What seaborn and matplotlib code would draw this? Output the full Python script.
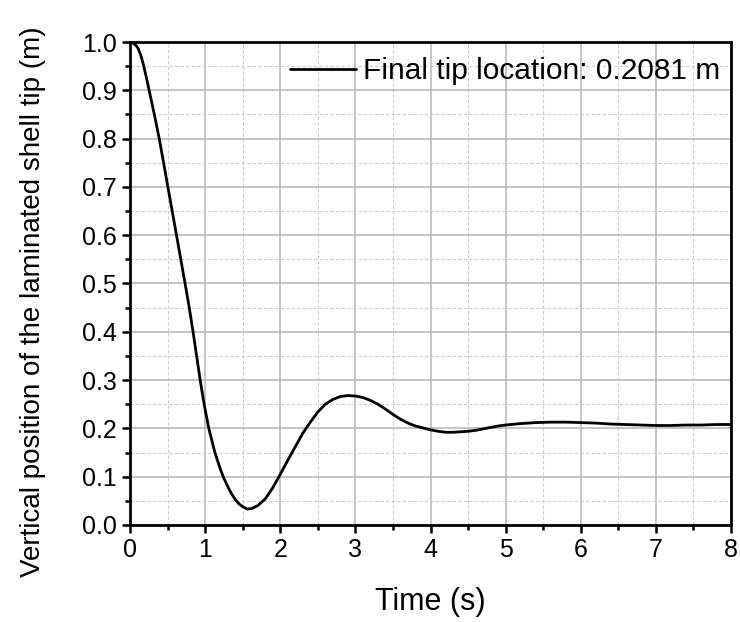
import numpy as np
import pandas as pd
import matplotlib
matplotlib.use("Agg")
import matplotlib.pyplot as plt
import seaborn as sns
from matplotlib.ticker import MultipleLocator, FormatStrFormatter

# ---- data ----
time_s = [0, 0.04, 0.08, 0.11, 0.145, 0.18, 0.22, 0.26, 0.328, 0.389, 0.447,
          0.504, 0.562, 0.619, 0.676, 0.733, 0.789, 0.839, 0.887, 0.934, 0.987,
          1.049, 1.13, 1.2, 1.241, 1.3, 1.35, 1.4, 1.45, 1.5, 1.56, 1.62,
          1.7, 1.8, 1.9, 2.0, 2.1, 2.2, 2.3, 2.4, 2.5, 2.6, 2.7, 2.8, 2.9, 3.0,
          3.1, 3.2, 3.3, 3.4, 3.5, 3.6, 3.7, 3.8, 3.9, 4.0, 4.1, 4.2, 4.3, 4.4,
          4.5, 4.6, 4.7, 4.8, 4.9, 5.0, 5.2, 5.4, 5.6, 5.8, 6.0, 6.2, 6.4, 6.6,
          6.8, 7.0, 7.2, 7.4, 7.6, 7.8, 8.0]
tip_pos = [1.0, 0.998, 0.993, 0.986, 0.972, 0.952, 0.925, 0.896, 0.847, 0.8, 0.75,
           0.7, 0.65, 0.6, 0.55, 0.5, 0.45, 0.4, 0.35, 0.3, 0.25,
           0.2, 0.15, 0.117, 0.1, 0.08, 0.065, 0.053, 0.044, 0.038, 0.033, 0.034,
           0.04, 0.054, 0.077, 0.105, 0.134, 0.162, 0.19, 0.213, 0.234, 0.25, 0.26, 0.266, 0.268, 0.267,
           0.264, 0.258, 0.25, 0.24, 0.229, 0.219, 0.211, 0.205, 0.201, 0.197, 0.194, 0.192, 0.192, 0.193,
           0.194, 0.196, 0.199, 0.202, 0.205, 0.207, 0.210, 0.212, 0.213, 0.213, 0.212, 0.211, 0.209, 0.208,
           0.207, 0.206, 0.206, 0.207, 0.207, 0.208, 0.2081]
legend_label = "Final tip location: 0.2081 m"
x_label = "Time (s)"
y_label = "Vertical position of the laminated shell tip (m)"

df = pd.DataFrame({"t": time_s, "y": tip_pos})

sns.set_style("white")
plt.rcParams["font.family"] = ["Liberation Sans", "DejaVu Sans"]
plt.rcParams["text.color"] = "black"
plt.rcParams["axes.labelcolor"] = "black"
plt.rcParams["xtick.color"] = "black"
plt.rcParams["ytick.color"] = "black"

fig = plt.figure(figsize=(7.4, 6.22), dpi=100)
ax = fig.add_axes([130 / 740, (622 - 525) / 622, (731 - 130) / 740, (525 - 42) / 622])

sns.lineplot(data=df, x="t", y="y", ax=ax, color="black", linewidth=2.0,
             label=legend_label, sort=False, estimator=None)

ax.set_xlim(0, 8)
ax.set_ylim(0, 1.0)
ax.xaxis.set_major_locator(MultipleLocator(1))
ax.xaxis.set_minor_locator(MultipleLocator(0.5))
ax.yaxis.set_major_locator(MultipleLocator(0.1))
ax.yaxis.set_minor_locator(MultipleLocator(0.05))
ax.xaxis.set_major_formatter(FormatStrFormatter("%d"))
ax.yaxis.set_major_formatter(FormatStrFormatter("%.1f"))

ax.grid(which="major", color="#b4b4b4", linewidth=1.1, linestyle="-")
ax.grid(which="minor", color="#cccccc", linewidth=0.8, linestyle=(0, (3, 2)))
ax.set_axisbelow(True)

for s in ax.spines.values():
    s.set_linewidth(2.0)
    s.set_color("black")

ax.tick_params(axis="both", which="major", direction="out", length=5.5, width=1.8,
               labelsize=18, pad=4, color="black", labelcolor="black",
               bottom=True, left=True, top=False, right=False)
ax.tick_params(axis="both", which="minor", direction="out", length=3.5, width=1.8,
               color="black", bottom=True, left=True, top=False, right=False)

ax.set_xlabel(x_label, fontsize=22, labelpad=18, color="black")
ax.set_ylabel(y_label, fontsize=20, color="black")
ax.yaxis.set_label_coords(-0.14, 0.462)

leg = ax.legend(loc="upper right", bbox_to_anchor=(1.0, 1.0 - 5 / 483), frameon=False,
                fontsize=21.5, handlelength=2.2, handletextpad=0.25,
                borderaxespad=0.0, borderpad=0.35)
for txt in leg.get_texts():
    txt.set_color("black")

fig.savefig("out.png", dpi=100)
